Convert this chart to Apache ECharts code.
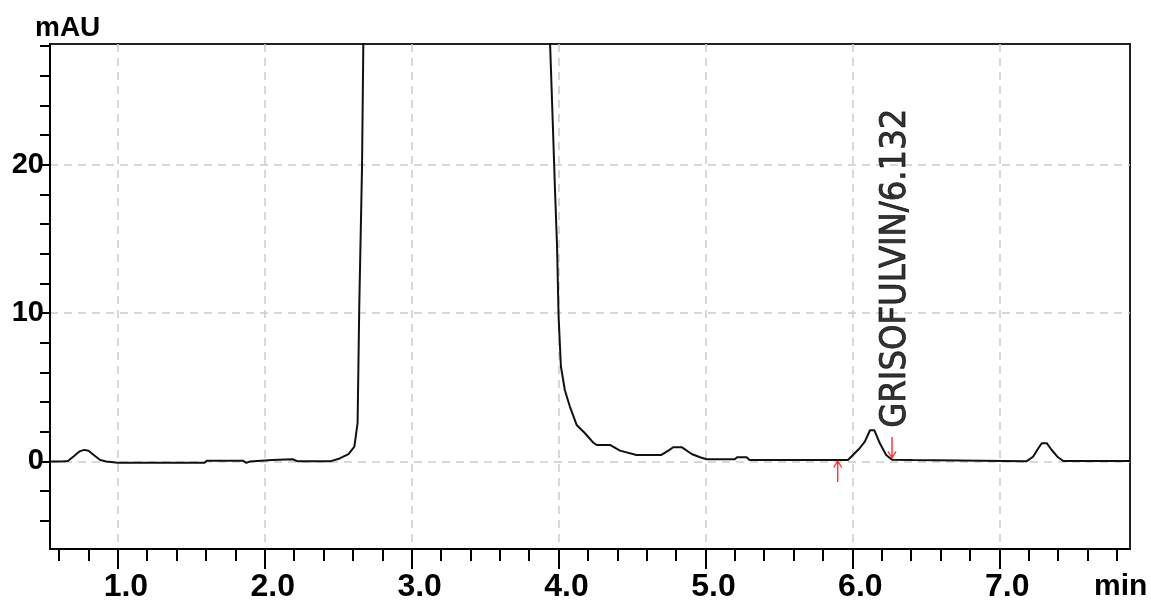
<!DOCTYPE html>
<html>
<head>
<meta charset="utf-8">
<script src="https://cdn.jsdelivr.net/npm/echarts@6/dist/echarts.min.js"></script>
<style>
  html, body { margin: 0; padding: 0; background: #fff; }
  #chromChart { width: 1151px; height: 601px; }
</style>
</head>
<body>
<div id="chromChart"></div>
<script>
// axis ranges / ticks
const xMin = 0.538;
const xMax = 7.89;
const yMin = -5.9;
const yMax = 28.13;
const xMajorTicks = [1, 2, 3, 4, 5, 6, 7];
const xMinorTicks = [0.6, 0.8, 1, 1.2, 1.4, 1.6, 1.8, 2, 2.2, 2.4, 2.6, 2.8, 3, 3.2, 3.4, 3.6, 3.8,
  4, 4.2, 4.4, 4.6, 4.8, 5, 5.2, 5.4, 5.6, 5.8, 6, 6.2, 6.4, 6.6, 6.8, 7, 7.2, 7.4, 7.6, 7.8];
const yMajorTicks = [0, 10, 20];
const yMinorTicks = [-4, -2, 0, 2, 4, 6, 8, 10, 12, 14, 16, 18, 20, 22, 24, 26, 28];

// chromatogram trace (min, mAU)
const times = [
  0.538, 0.62, 0.66, 0.70, 0.74, 0.77, 0.80, 0.84, 0.88, 0.92, 1.0, 1.59, 1.605, 1.85, 1.875, 1.90,
  2.05, 2.19, 2.22, 2.45, 2.51, 2.57, 2.61, 2.632, 2.643, 2.662, 2.675, 2.70, 2.75, 2.85, 3.00,
  3.20, 3.40, 3.60, 3.80, 3.90, 3.941, 3.96, 3.975, 3.99, 4.0, 4.016, 4.043, 4.077, 4.123, 4.18,
  4.236, 4.26, 4.35, 4.418, 4.53, 4.70, 4.75, 4.78, 4.838, 4.906, 4.963, 5.008, 5.20, 5.215, 5.28,
  5.30, 5.97, 6.05, 6.085, 6.12, 6.15, 6.187, 6.23, 6.27, 6.41, 6.42, 7.187, 7.23, 7.266, 7.289,
  7.323, 7.357, 7.40, 7.436, 7.89
];
const signal = [
  0.0, 0.0, 0.03, 0.35, 0.68, 0.78, 0.72, 0.4, 0.1, 0.0, -0.08, -0.08, 0.05, 0.05, -0.1, 0.0,
  0.1, 0.15, 0.02, 0.02, 0.2, 0.5, 1.0, 2.6, 10.3, 19.8, 32, 70, 160, 330, 460,
  510, 430, 260, 110, 50, 28.5, 23.0, 18.5, 14.4, 9.8, 6.4, 4.8, 3.7, 2.46, 1.9,
  1.27, 1.11, 1.11, 0.73, 0.44, 0.44, 0.75, 0.96, 0.96, 0.5, 0.28, 0.15, 0.15, 0.28, 0.28,
  0.1, 0.1, 0.89, 1.33, 2.1, 2.1, 1.22, 0.44, 0.12, 0.1, 0.02, 0.02, 0.32, 0.89, 1.23,
  1.23, 0.77, 0.28, 0.03, 0.03
];

// integration markers and peak label
const startMarker = [5.90, 0.1];
const endMarker = [6.27, 0.17];
const peakName = 'GRISOFULVIN';
const peakTime = 6.132;
const peakHeight = 2.17;

const labelFont = '"Liberation Sans", Arial, sans-serif';
const narrowFont = '"Liberation Sans Narrow", "Arial Narrow", "DejaVu Sans Condensed", sans-serif';

const upArrow = 'path://M5,0 L10,7 L9,8 L5.8,3.5 L5.8,22 L4.2,22 L4.2,3.5 L1,8 L0,7 Z';
const downArrow = 'path://M5,22 L10,15 L9,14 L5.8,18.5 L5.8,0 L4.2,0 L4.2,18.5 L1,14 L0,15 Z';

const gridDash = {color: '#cccccc', width: 1.5, type: [8, 6]};

let myChart = echarts.init(document.getElementById('chromChart'), null, {renderer: 'canvas'});
let option = {
  animation: false,
  backgroundColor: '#fff',
  grid: {
    left: 50, right: 21, top: 44, bottom: 52,
    show: true, borderColor: '#222', borderWidth: 2,
    outerBoundsMode: 'none'
  },
  graphic: [
    {type: 'text', left: 35, top: 14,
      style: {text: 'mAU', font: 'bold 28px ' + labelFont, fill: '#000'}},
    {type: 'text', left: 1094, top: 572,
      style: {text: 'min', font: 'bold 30px ' + labelFont, fill: '#000'}}
  ],
  xAxis: [
    {
      type: 'value', min: xMin, max: xMax, splitNumber: 7, position: 'bottom',
      axisLine: {show: true, onZero: false, lineStyle: {color: '#000', width: 2}},
      axisTick: {show: true, length: 20, customValues: xMajorTicks, lineStyle: {color: '#000', width: 2}},
      axisLabel: {
        customValues: xMajorTicks, formatter: (v) => v.toFixed(1),
        fontSize: 32, fontWeight: 'bold', fontFamily: labelFont, color: '#000',
        margin: 22, padding: [0, 0, 0, 16]
      },
      splitLine: {show: true, lineStyle: gridDash}
    },
    {
      type: 'value', min: xMin, max: xMax, position: 'bottom',
      axisLine: {show: false, onZero: false},
      axisTick: {show: true, length: 12, customValues: xMinorTicks, lineStyle: {color: '#000', width: 2}},
      axisLabel: {show: false},
      splitLine: {show: false}
    }
  ],
  yAxis: [
    {
      type: 'value', min: yMin, max: yMax, splitNumber: 3, position: 'left',
      axisLine: {show: true, onZero: false, lineStyle: {color: '#000', width: 2}},
      axisTick: {show: true, length: 10, customValues: yMajorTicks, lineStyle: {color: '#000', width: 2}},
      axisLabel: {
        customValues: yMajorTicks,
        fontSize: 29, fontWeight: 'bold', fontFamily: labelFont, color: '#000', margin: 6
      },
      splitLine: {show: true, lineStyle: gridDash}
    },
    {
      type: 'value', min: yMin, max: yMax, position: 'left',
      axisLine: {show: false, onZero: false},
      axisTick: {show: true, length: 10, customValues: yMinorTicks, lineStyle: {color: '#000', width: 2}},
      axisLabel: {show: false},
      splitLine: {show: false}
    }
  ],
  series: [
    {
      name: 'signal',
      type: 'line',
      xAxisIndex: 0, yAxisIndex: 0,
      data: times.map((t, i) => [t, signal[i]]),
      showSymbol: false,
      clip: true,
      lineStyle: {color: '#111', width: 2},
      z: 5
    },
    {
      name: 'markers',
      type: 'scatter',
      xAxisIndex: 0, yAxisIndex: 0,
      data: [
        {value: startMarker, symbol: upArrow, symbolOffset: [0, 11]},
        {value: endMarker, symbol: downArrow, symbolOffset: [0, -11]}
      ],
      symbolSize: [9, 22],
      itemStyle: {color: '#ff0000'},
      z: 6
    },
    {
      name: 'peak',
      type: 'scatter',
      xAxisIndex: 0, yAxisIndex: 0,
      data: [[peakTime, peakHeight]],
      symbolSize: 1,
      itemStyle: {color: 'rgba(0,0,0,0)'},
      label: {
        show: true,
        formatter: peakName + '/' + peakTime.toFixed(3),
        position: 'top', distance: 1, rotate: 90,
        align: 'left', verticalAlign: 'top',
        padding: [6, 0, 0, 0],
        fontSize: 36, fontFamily: narrowFont, color: '#000',
        textBorderColor: '#000', textBorderWidth: 0.8
      },
      z: 7
    }
  ]
};
myChart.setOption(option);
</script>
</body>
</html>
